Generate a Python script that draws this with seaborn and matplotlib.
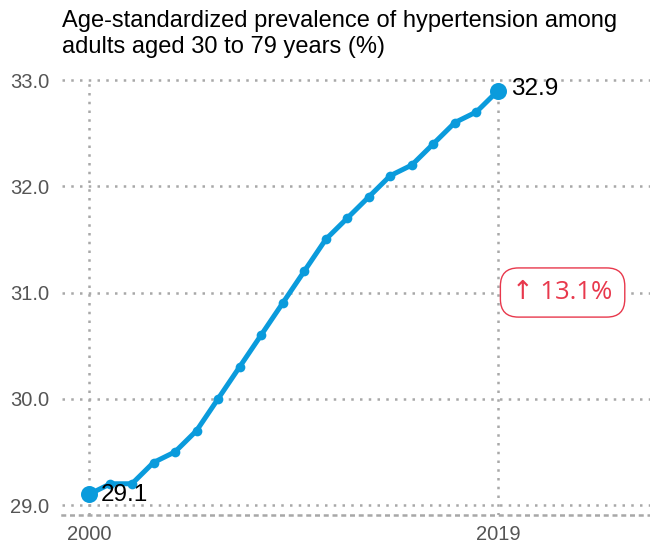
import matplotlib
matplotlib.use("Agg")
import matplotlib.pyplot as plt
import seaborn as sns
import pandas as pd

years = list(range(2000, 2020))
prevalence = [29.1, 29.2, 29.2, 29.4, 29.5, 29.7, 30.0, 30.3, 30.6, 30.9,
              31.2, 31.5, 31.7, 31.9, 32.1, 32.2, 32.4, 32.6, 32.7, 32.9]
y_ticks = [29.0, 30.0, 31.0, 32.0, 33.0]
x_ticks = [2000, 2019]
title_lines = ["Age-standardized prevalence of hypertension among",
               "adults aged 30 to 79 years (%)"]

df = pd.DataFrame({"year": years, "value": prevalence})

sns.set_style("white")
plt.rcParams["font.family"] = ["Liberation Sans", "DejaVu Sans"]

BLUE = "#0a9bdc"
RED = "#e8384c"
GRID = "#a8a8a8"

fig = plt.figure(figsize=(6.5, 5.48), dpi=100)
ax = fig.add_axes([62 / 650, 33 / 548, 1 - 62 / 650, (515 - 78) / 548])

sns.lineplot(data=df, x="year", y="value", ax=ax, color=BLUE, linewidth=3.6,
             marker="o", markersize=7, markeredgewidth=0, zorder=3)
ends = df.iloc[[0, -1]]
sns.scatterplot(data=ends, x="year", y="value", ax=ax, color=BLUE, s=150,
                linewidth=0, zorder=4, legend=False)

ax.set_xlim(1998.75, 2026.06)
ax.set_ylim(28.906, 33.019)
ax.set_yticks(y_ticks)
ax.set_yticklabels([f"{v:.1f}" for v in y_ticks])
ax.set_xticks(x_ticks)
ax.set_xticklabels([str(x) for x in x_ticks])
ax.set_xlabel("")
ax.set_ylabel("")

dots = (0, (1, 2.5))
for v in y_ticks:
    ax.axhline(v, color=GRID, lw=1.8, ls=dots, zorder=1)
for x in x_ticks:
    ax.plot([x, x], [ax.get_ylim()[0], 33.0], color=GRID, lw=1.8, ls=dots, zorder=1)

for s in ["top", "right", "left"]:
    ax.spines[s].set_visible(False)
ax.spines["bottom"].set_color(GRID)
ax.spines["bottom"].set_linewidth(1.8)
ax.spines["bottom"].set_linestyle(dots)

ax.tick_params(axis="both", length=0, labelsize=14.5, labelcolor="#555555")
ax.tick_params(axis="y", pad=9)
ax.tick_params(axis="x", pad=7)

ax.text(years[0] + 0.54, prevalence[0] - 0.01, f"{prevalence[0]:.1f}",
        fontsize=17.5, color="black", ha="left", va="center", zorder=5)
ax.text(years[-1] + 0.6, prevalence[-1] + 0.02, f"{prevalence[-1]:.1f}",
        fontsize=17.5, color="black", ha="left", va="center", zorder=5)

pct = (prevalence[-1] - prevalence[0]) / prevalence[0] * 100
ax.text(2022.0, 31.0, f"↑ {pct:.1f}%", fontsize=18.5, color=RED,
        family=["Open Sans", "DejaVu Sans"], ha="center", va="center", zorder=5,
        bbox=dict(boxstyle="round,pad=0.47,rounding_size=0.7", fc="white",
                  ec=RED, lw=1.0))

fig.text(62 / 650, 1 - 27 / 548, title_lines[0], fontsize=17, color="black",
         ha="left", va="baseline")
fig.text(62 / 650, 1 - 53 / 548, title_lines[1], fontsize=17, color="black",
         ha="left", va="baseline")

fig.savefig("out.png", dpi=100)
